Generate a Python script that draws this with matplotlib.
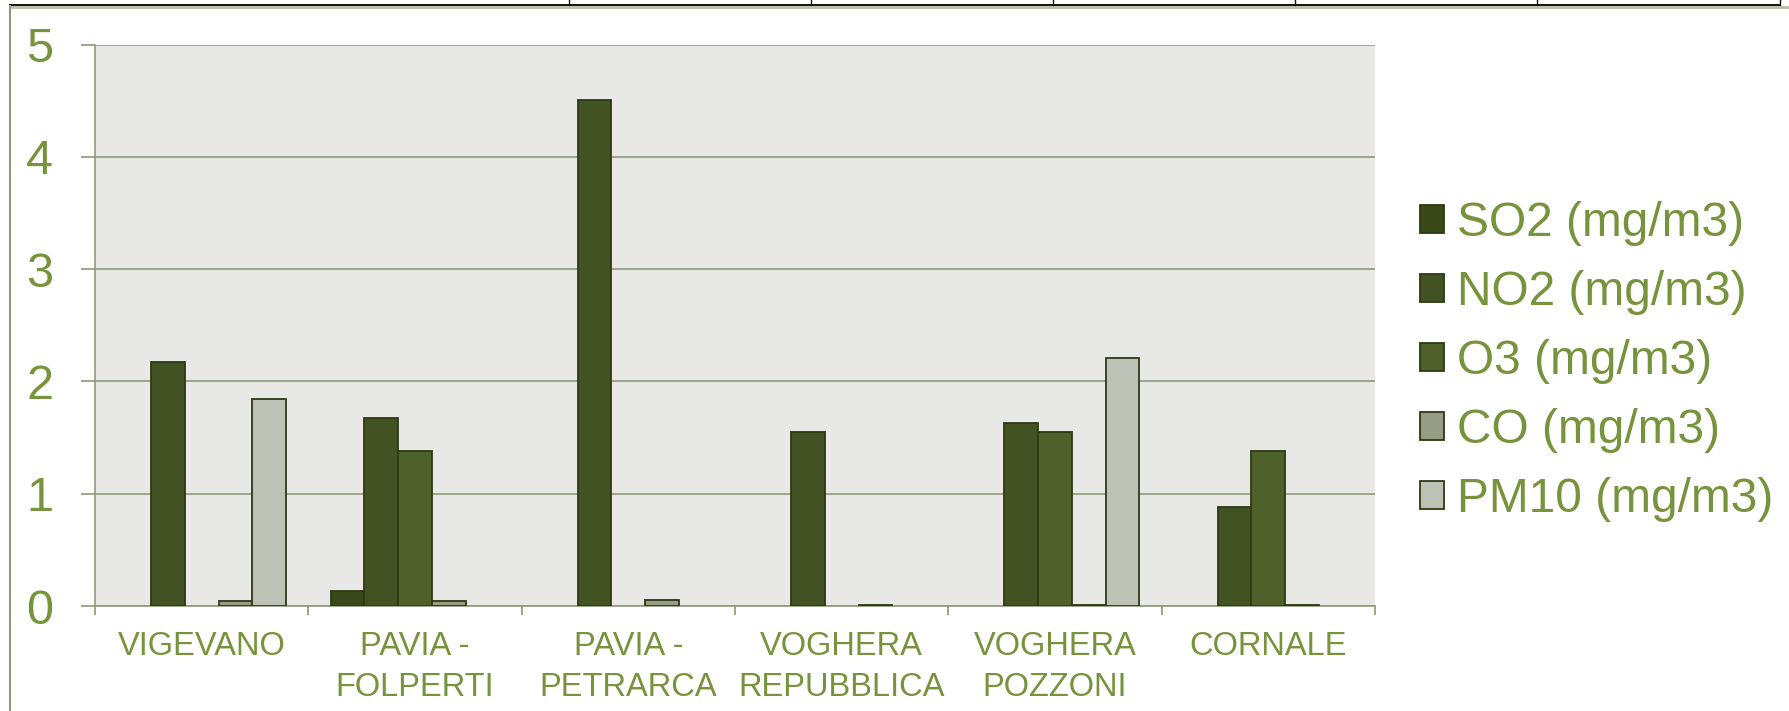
import matplotlib
matplotlib.use("Agg")
import matplotlib.pyplot as plt
from matplotlib.lines import Line2D
import numpy as np

plt.rcParams['font.family'] = ['Liberation Sans', 'DejaVu Sans']

nan = np.nan
stations = ["VIGEVANO", "PAVIA -\nFOLPERTI", "PAVIA -\nPETRARCA",
            "VOGHERA\nREPUBBLICA", "VOGHERA\nPOZZONI", "CORNALE"]
series_names = ["SO2 (mg/m3)", "NO2 (mg/m3)", "O3 (mg/m3)", "CO (mg/m3)", "PM10 (mg/m3)"]
so2 = [nan, 0.13, nan, nan, nan, nan]
no2 = [2.17, 1.67, 4.51, 1.55, 1.63, 0.88]
o3 = [nan, 1.38, nan, nan, 1.55, 1.38]
co = [0.048, 0.045, 0.049, 0.006, 0.006, 0.005]
pm10 = [1.84, nan, nan, nan, 2.21, nan]
yticks = [0, 1, 2, 3, 4, 5]

colors = ["#3a4919", "#435222", "#4f612a", "#969c86", "#bec1b6"]
edge = "#2c3a12"
green = "#77933c"
gridc = "#8e9a7c"

W, H = 1789, 711
fig = plt.figure(figsize=(W / 100, H / 100), dpi=100)
ax = fig.add_axes([95 / W, 1 - 606 / H, (1375 - 95) / W, (606 - 44.5) / H])
ax.set_facecolor("#e8e8e6")

data = [so2, no2, o3, co, pm10]
n = len(stations)
x = np.arange(n) + 0.5
bw = 0.158
for i, (vals, c) in enumerate(zip(data, colors)):
    off = (i - 2) * bw
    ax.bar(x + off, vals, width=bw, color=c, edgecolor=edge, linewidth=1.3,
           label=series_names[i], zorder=3)

ax.set_xlim(0, n)
ax.set_ylim(0, 5)
ax.set_yticks(yticks)
ax.set_yticklabels([str(v) for v in yticks])
ax.yaxis.grid(True, color=gridc, linewidth=1.2, zorder=1)
ax.set_axisbelow(True)

ax.set_xticks(np.arange(n + 1))
ax.set_xticklabels([])
ax.set_xticks(x, minor=True)
ax.set_xticklabels(stations, minor=True, fontsize=23.5, color=green,
                   linespacing=1.42)
ax.tick_params(axis='x', which='minor', length=0, pad=18)
ax.tick_params(axis='x', which='major', length=6.5, width=1.2, color=gridc,
               direction='out')
ax.tick_params(axis='y', length=10, width=1.2, color=gridc, direction='out',
               labelsize=35, labelcolor=green, pad=20)

for s in ['top', 'right']:
    ax.spines[s].set_visible(False)
for s in ['left', 'bottom']:
    ax.spines[s].set_color(gridc)
    ax.spines[s].set_linewidth(1.2)

leg = fig.legend(loc='center left', bbox_to_anchor=(1420 / W, 1 - 361.5 / H),
                 frameon=False, fontsize=34.5, handlelength=0.5,
                 handleheight=0.5, handletextpad=0.28, labelspacing=0.5,
                 borderpad=0, borderaxespad=0)
for t in leg.get_texts():
    t.set_color(green)

# page decorations: top table border and left border
tf = fig.transFigure
fig.add_artist(Line2D([10 / W, 1.0], [1 - 7 / H, 1 - 7 / H], transform=tf,
                      color="#b9c0a6", linewidth=2.0))
fig.add_artist(Line2D([10 / W, 1780 / W], [1 - 5 / H, 1 - 5 / H], transform=tf,
                      color="#111111", linewidth=1.4))
for px in [569, 811, 1053, 1295, 1537, 1780]:
    fig.add_artist(Line2D([px / W, px / W], [1 - 5 / H, 1.0], transform=tf,
                          color="#111111", linewidth=1.0))
fig.add_artist(Line2D([9.7 / W, 9.7 / W], [0, 1 - 6 / H], transform=tf,
                      color=gridc, linewidth=1.5))

fig.savefig("out.png", dpi=100)
